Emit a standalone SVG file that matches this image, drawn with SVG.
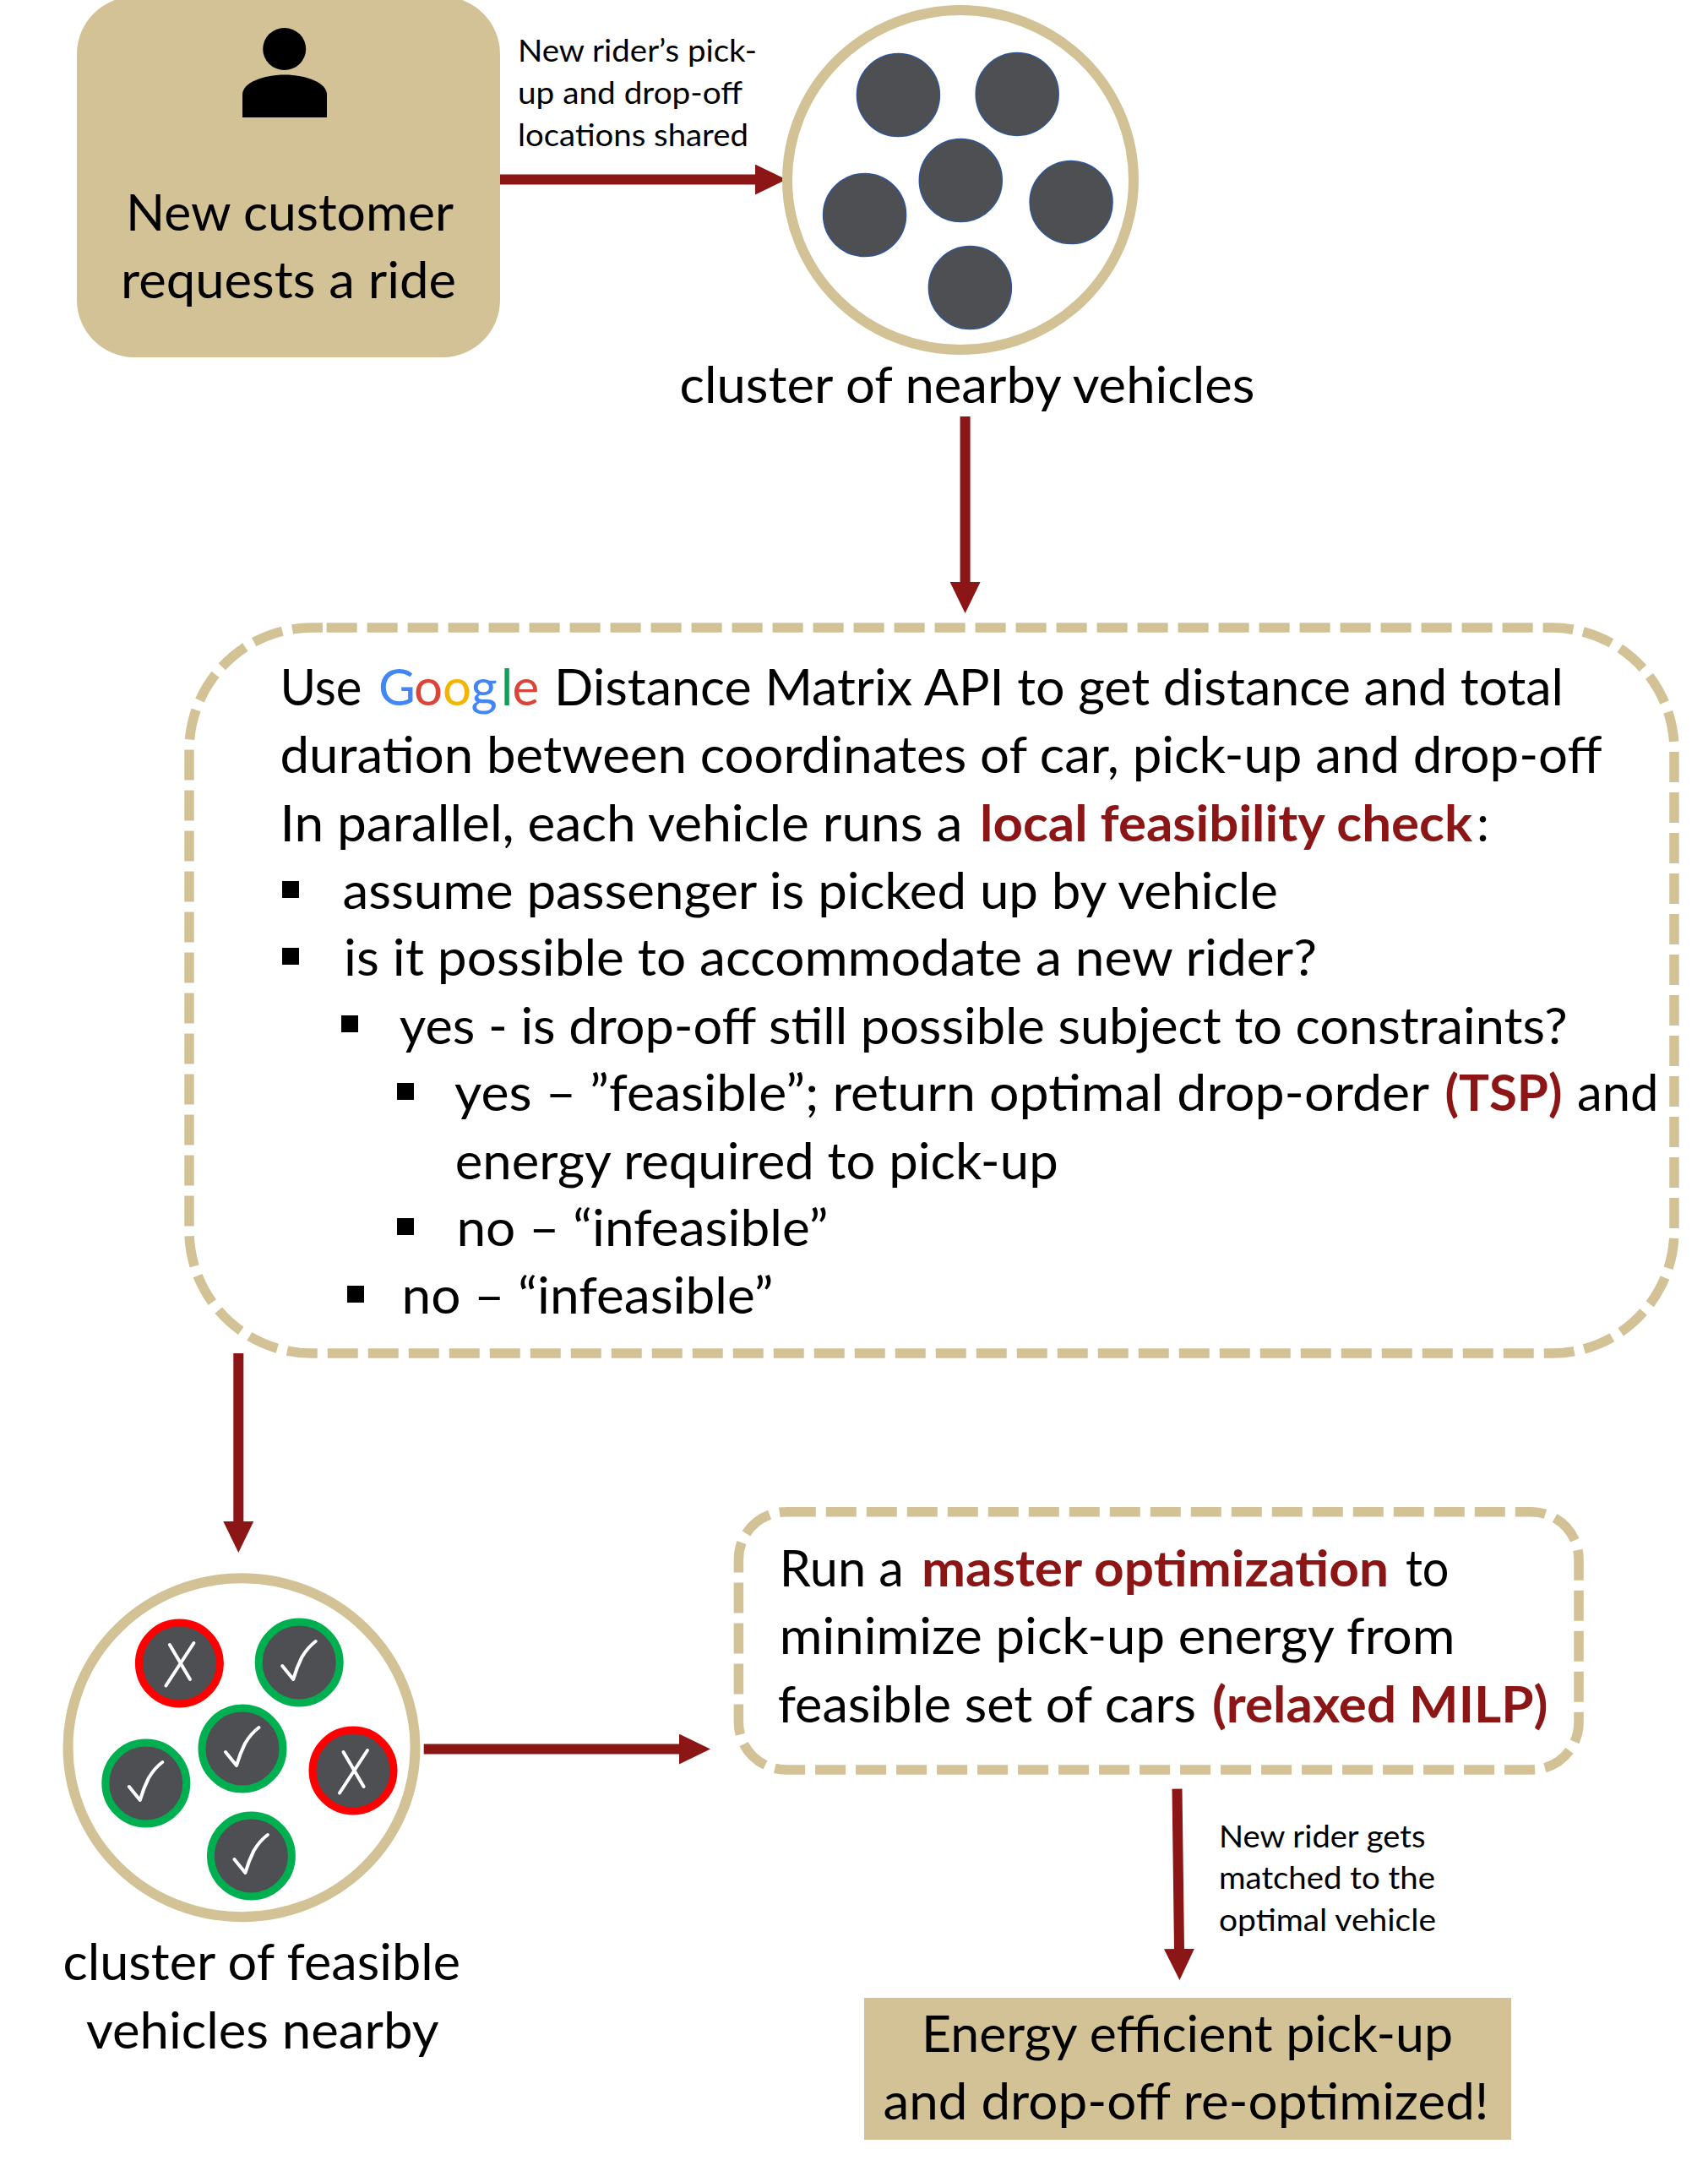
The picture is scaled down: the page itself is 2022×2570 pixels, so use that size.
<svg xmlns="http://www.w3.org/2000/svg" width="2022" height="2570" viewBox="0 0 2022 2570">
<style>
text{font-family:"Lato","Carlito","Open Sans",sans-serif;fill:#000}
.lg{font-size:60px}
.sm{font-size:37px}
.b{font-weight:700;fill:#8C1515}
.tan{fill:#D2C295}
.ring{fill:#fff;stroke:#D2C295;stroke-width:12}
.dash{fill:#fff;stroke:#D2C295;stroke-width:11.5;stroke-dasharray:36 12}
.car{fill:#4D4F53;stroke:#2F5597;stroke-width:1.5}
.ok{fill:#4D4F53;stroke:#00B050;stroke-width:9}
.no{fill:#4D4F53;stroke:#FF0000;stroke-width:9}
.mk{fill:none;stroke:#fff;stroke-width:4;stroke-linecap:round;stroke-linejoin:round}
.arrow{stroke:#8C1515;stroke-width:12;fill:none;marker-end:url(#head)}
.bul{fill:#000}
</style>
<defs>
<marker id="head" markerUnits="userSpaceOnUse" viewBox="0 0 37 36" markerWidth="37" markerHeight="36" refX="1" refY="18" orient="auto"><path d="M0 0L37 18L0 36Z" fill="#8C1515"/></marker>
<path id="chk" d="M-20 4L-7 20Q-3 6 3 -6Q10 -18 19.5 -25"/>
<path id="xx" d="M-11.5 -22L12.6 19M17 -24L-16 26.5"/>
</defs>
<g id="connectors">
<line class="arrow" x1="592" y1="212.6" x2="895" y2="212.6"/>
<line class="arrow" x1="1142.6" y1="493" x2="1142.6" y2="690"/>
<line class="arrow" x1="282.3" y1="1602" x2="282.3" y2="1802"/>
<line class="arrow" x1="501.7" y1="2070.6" x2="805" y2="2070.6"/>
<line class="arrow" x1="1393.5" y1="2117.7" x2="1396" y2="2308"/>
</g>
<g id="node-request">
<rect class="tan" x="91" y="-4" width="501" height="427" rx="68" ry="68"/>
<ellipse cx="336.7" cy="58" rx="25.5" ry="25"/>
<path d="M287 139V112C287 98 312 88.6 337 88.6C362 88.6 387 98 387 112V139Z"/>
<text class="lg" x="149" y="273" textLength="388" lengthAdjust="spacingAndGlyphs">New customer</text>
<text class="lg" x="143" y="353" textLength="397" lengthAdjust="spacingAndGlyphs">requests a ride</text>
</g>
<g id="label-shared">
<text class="sm" x="613" y="72.5" textLength="283" lengthAdjust="spacingAndGlyphs">New rider’s pick-</text>
<text class="sm" x="613" y="123" textLength="266" lengthAdjust="spacingAndGlyphs">up and drop-off</text>
<text class="sm" x="613" y="172.6" textLength="273" lengthAdjust="spacingAndGlyphs">locations shared</text>
</g>
<g id="node-cluster">
<ellipse class="ring" cx="1137" cy="213" rx="205" ry="201"/>
<circle class="car" cx="1063.4" cy="112.5" r="49"/>
<circle class="car" cx="1204.2" cy="111.4" r="49"/>
<circle class="car" cx="1137.3" cy="213.5" r="49"/>
<circle class="car" cx="1023.6" cy="254.5" r="49"/>
<circle class="car" cx="1268.1" cy="239.6" r="49"/>
<circle class="car" cx="1148.4" cy="340.6" r="49"/>
<text class="lg" x="804.5" y="476.5" textLength="681" lengthAdjust="spacingAndGlyphs">cluster of nearby vehicles</text>
</g>
<g id="node-feasibility">
<path class="dash" d="M386.6 743H1837A145 145 0 0 1 1982 888V1457A145 145 0 0 1 1837 1602H369A145 145 0 0 1 224 1457V888A145 145 0 0 1 369 743Z"/>
<text class="lg" y="835"><tspan x="331.5" textLength="97" lengthAdjust="spacingAndGlyphs">Use</tspan><tspan x="448" fill="#4285F4" style="fill:#4285F4">G</tspan><tspan x="490" style="fill:#DB4437">o</tspan><tspan x="524" style="fill:#F4B400">o</tspan><tspan x="557.6" style="fill:#4285F4">g</tspan><tspan x="593" style="fill:#0F9D58">l</tspan><tspan x="606.4" style="fill:#DB4437">e</tspan><tspan x="656" textLength="1195" lengthAdjust="spacingAndGlyphs">Distance Matrix API to get distance and total</tspan></text>
<text class="lg" x="331.5" y="915" textLength="1565" lengthAdjust="spacingAndGlyphs">duration between coordinates of car, pick-up and drop-off</text>
<text class="lg" y="995.6"><tspan x="331.5" textLength="808" lengthAdjust="spacingAndGlyphs">In parallel, each vehicle runs a</tspan><tspan class="b" x="1160" textLength="583" lengthAdjust="spacingAndGlyphs">local feasibility check</tspan><tspan x="1748">:</tspan></text>
<rect class="bul" x="334" y="1043" width="20" height="20"/>
<text class="lg" x="405.5" y="1076" textLength="1107.5" lengthAdjust="spacingAndGlyphs">assume passenger is picked up by vehicle</text>
<rect class="bul" x="334" y="1122" width="20" height="20"/>
<text class="lg" x="407" y="1155" textLength="1152" lengthAdjust="spacingAndGlyphs">is it possible to accommodate a new rider?</text>
<rect class="bul" x="404" y="1202" width="20" height="20"/>
<text class="lg" x="472.7" y="1235.6" textLength="1383" lengthAdjust="spacingAndGlyphs">yes - is drop-off still possible subject to constraints?</text>
<rect class="bul" x="470" y="1282" width="20" height="20"/>
<text class="lg" y="1315"><tspan x="538" textLength="1154" lengthAdjust="spacingAndGlyphs">yes – ”feasible”; return optimal drop-order</tspan><tspan class="b" x="1710.5" textLength="139" lengthAdjust="spacingAndGlyphs">(TSP)</tspan><tspan x="1867" textLength="96.5" lengthAdjust="spacingAndGlyphs">and</tspan></text>
<text class="lg" x="538.7" y="1396" textLength="714" lengthAdjust="spacingAndGlyphs">energy required to pick-up</text>
<rect class="bul" x="470" y="1442" width="20" height="20"/>
<text class="lg" x="540.4" y="1475" textLength="440" lengthAdjust="spacingAndGlyphs">no – “infeasible”</text>
<rect class="bul" x="411" y="1522" width="20" height="20"/>
<text class="lg" x="475.5" y="1555" textLength="440" lengthAdjust="spacingAndGlyphs">no – “infeasible”</text>
</g>
<g id="node-feasible-cluster">
<ellipse class="ring" cx="286" cy="2068.7" rx="205.5" ry="200.5"/>
<g transform="translate(212.4 1969)"><circle class="no" r="48"/><use class="mk" href="#xx"/></g>
<g transform="translate(354.2 1968)"><circle class="ok" r="48"/><use class="mk" href="#chk"/></g>
<g transform="translate(287 2070)"><circle class="ok" r="48"/><use class="mk" href="#chk"/></g>
<g transform="translate(172.8 2111)"><circle class="ok" r="48"/><use class="mk" href="#chk"/></g>
<g transform="translate(418 2096)"><circle class="no" r="48"/><use class="mk" href="#xx"/></g>
<g transform="translate(297.4 2197)"><circle class="ok" r="48"/><use class="mk" href="#chk"/></g>
<text class="lg" x="74.6" y="2344" textLength="470.4" lengthAdjust="spacingAndGlyphs">cluster of feasible</text>
<text class="lg" x="102" y="2425" textLength="417.5" lengthAdjust="spacingAndGlyphs">vehicles nearby</text>
</g>
<g id="node-master">
<path class="dash" d="M929.8 1789.7H1813A56 56 0 0 1 1869 1845.7V2039A56 56 0 0 1 1813 2095H930.4A56 56 0 0 1 874.4 2039V1845.7A56 56 0 0 1 930.4 1789.7Z"/>
<text class="lg" y="1878"><tspan x="922.8" textLength="147" lengthAdjust="spacingAndGlyphs">Run a</tspan><tspan class="b" x="1091" textLength="553" lengthAdjust="spacingAndGlyphs">master optimization</tspan><tspan x="1664" textLength="51.5" lengthAdjust="spacingAndGlyphs">to</tspan></text>
<text class="lg" x="922.8" y="1958" textLength="799.7" lengthAdjust="spacingAndGlyphs">minimize pick-up energy from</text>
<text class="lg" y="2038.7"><tspan x="920.7" textLength="495.3" lengthAdjust="spacingAndGlyphs">feasible set of cars</tspan><tspan class="b" x="1435" textLength="397.6" lengthAdjust="spacingAndGlyphs">(relaxed MILP)</tspan></text>
</g>
<g id="label-matched">
<text class="sm" x="1443" y="2186.7" textLength="244.4" lengthAdjust="spacingAndGlyphs">New rider gets</text>
<text class="sm" x="1443" y="2236" textLength="256" lengthAdjust="spacingAndGlyphs">matched to the</text>
<text class="sm" x="1443" y="2286" textLength="257" lengthAdjust="spacingAndGlyphs">optimal vehicle</text>
</g>
<g id="node-result">
<rect class="tan" x="1023" y="2365" width="766" height="168"/>
<text class="lg" x="1091" y="2429" textLength="629" lengthAdjust="spacingAndGlyphs">Energy efficient pick-up</text>
<text class="lg" x="1045.5" y="2509" textLength="717" lengthAdjust="spacingAndGlyphs">and drop-off re-optimized!</text>
</g>
</svg>
